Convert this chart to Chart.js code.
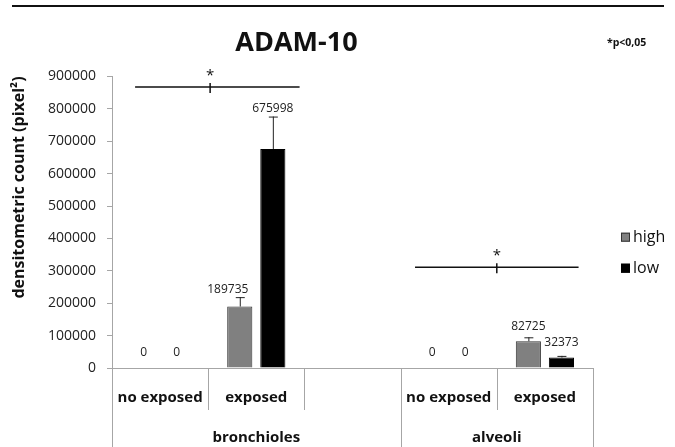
<!DOCTYPE html>
<html>
<head>
<meta charset="utf-8">
<script src="https://cdn.jsdelivr.net/npm/chart.js@4/dist/chart.umd.min.js"></script>
<style>
  html, body { margin: 0; padding: 0; background: #fff; }
  #wrap { width: 675px; height: 447px; }
</style>
</head>
<body>
<div id="wrap"><canvas id="barChart" width="675" height="447"></canvas></div>
<script>
// --- Data ---
const categories = ['no exposed', 'exposed', '', 'no exposed', 'exposed'];
const groupLabels = ['bronchioles', 'alveoli'];
const groupStart = [0, 3];
const groupEnd = [2, 4];
const highValues = [0, 189735, null, 0, 82725];
const lowValues = [0, 675998, null, 0, 32373];
const highErr = [0, 29000, null, 0, 12000];
const lowErr = [0, 100000, null, 0, 5000];
const yTicks = [0, 100000, 200000, 300000, 400000, 500000, 600000, 700000, 800000, 900000];
// significance brackets (category index positions, value level)
const sigFrom = [-0.26, 2.65];
const sigTo = [1.45, 4.35];
const sigMid = [0.52, 3.5];
const sigLevel = [867000, 311000];

const FONT = '"Open Sans", "Liberation Sans", sans-serif';
const errors = [highErr, lowErr];

// --- Extra drawing: error bars, value labels, brackets, grouped x axis, legend ---
const extras = {
  id: 'extras',
  afterDatasetsDraw(chart) {
    const ctx = chart.ctx;
    const y = chart.scales.y;
    const x = chart.scales.x;
    ctx.save();
    chart.data.datasets.forEach((ds, di) => {
      const meta = chart.getDatasetMeta(di);
      meta.data.forEach((bar, i) => {
        const v = ds.data[i];
        if (v === null) return;
        const err = errors[di][i];
        const top = y.getPixelForValue(v);
        const errTop = y.getPixelForValue(v + err);
        if (err > 0) {
          ctx.strokeStyle = '#222';
          ctx.lineWidth = 1;
          ctx.beginPath();
          ctx.moveTo(bar.x + 0.5, top);
          ctx.lineTo(bar.x + 0.5, errTop);
          ctx.moveTo(bar.x - 4, errTop + 0.5);
          ctx.lineTo(bar.x + 5, errTop + 0.5);
          ctx.stroke();
        }
        const ly = Math.min(top - 15, errTop - 8);
        // nudge a label left when the neighbouring bar rises past it
        let lx = bar.x;
        const next = chart.data.datasets[di + 1];
        if (next && next.data[i] !== null && y.getPixelForValue(next.data[i]) < ly) lx -= 12;
        ctx.fillStyle = '#222';
        ctx.font = '12px ' + FONT;
        ctx.textAlign = 'center';
        ctx.textBaseline = 'middle';
        ctx.fillText(String(v), lx, ly);
      });
    });
    // significance brackets
    ctx.strokeStyle = '#111';
    ctx.lineWidth = 1.5;
    for (let k = 0; k < sigLevel.length; k++) {
      const py = y.getPixelForValue(sigLevel[k]);
      const x1 = x.getPixelForValue(sigFrom[k]);
      const x2 = x.getPixelForValue(sigTo[k]);
      const xm = x.getPixelForValue(sigMid[k]);
      ctx.beginPath();
      ctx.moveTo(x1, py); ctx.lineTo(x2, py);
      ctx.moveTo(xm, py - 4); ctx.lineTo(xm, py + 6);
      ctx.stroke();
      ctx.fillStyle = '#111';
      ctx.font = '15px ' + FONT;
      ctx.textAlign = 'center';
      ctx.textBaseline = 'alphabetic';
      ctx.fillText('*', xm, py - 7);
    }
    ctx.restore();
  },
  afterDraw(chart) {
    const ctx = chart.ctx;
    const x = chart.scales.x;
    const area = chart.chartArea;
    const b = area.bottom;
    ctx.save();
    // rule across the top
    ctx.fillStyle = '#111';
    ctx.fillRect(12, 5, 652, 2);
    // p-value note
    ctx.font = 'bold 10.5px ' + FONT;
    ctx.textAlign = 'left';
    ctx.textBaseline = 'middle';
    ctx.fillText('*p<0,05', 607, 43);
    // x axis line and category boxes
    ctx.strokeStyle = '#a6a6a6';
    ctx.lineWidth = 1;
    ctx.beginPath();
    ctx.moveTo(area.left, b + 0.5);
    ctx.lineTo(area.right, b + 0.5);
    for (let i = 0; i <= categories.length; i++) {
      const px = Math.round(x.getPixelForValue(i - 0.5)) + 0.5;
      const isGroupEdge = i === 0 || groupEnd.indexOf(i - 1) >= 0;
      ctx.moveTo(px, b);
      ctx.lineTo(px, isGroupEdge ? chart.height : b + 42);
    }
    ctx.stroke();
    ctx.fillStyle = '#111';
    ctx.font = 'bold 15px ' + FONT;
    ctx.textAlign = 'center';
    categories.forEach((c, i) => {
      if (c) ctx.fillText(c, x.getPixelForValue(i), b + 30);
    });
    groupLabels.forEach((g, k) => {
      const cx = (x.getPixelForValue(groupStart[k]) + x.getPixelForValue(groupEnd[k])) / 2;
      ctx.fillText(g, cx, b + 70);
    });
    // legend
    const lx = area.right + 28;
    const ly0 = (area.top + area.bottom) / 2 + 15;
    chart.data.datasets.forEach((ds, di) => {
      const ly = ly0 + di * 31;
      ctx.fillStyle = ds.backgroundColor;
      ctx.fillRect(lx, ly - 4.5, 9, 9);
      ctx.strokeStyle = ds.borderColor;
      ctx.lineWidth = 1;
      ctx.strokeRect(lx + 0.5, ly - 4, 8, 8);
      ctx.fillStyle = '#111';
      ctx.font = '16px ' + FONT;
      ctx.textAlign = 'left';
      ctx.fillText(ds.label, lx + 12, ly);
    });
    ctx.restore();
  }
};

// --- Chart ---
const barCtx = document.getElementById('barChart').getContext('2d');
const barChart = new Chart(barCtx, {
  type: 'bar',
  data: {
    labels: categories,
    datasets: [
      { label: 'high', data: highValues, backgroundColor: '#808080', borderColor: '#333', borderWidth: 1 },
      { label: 'low', data: lowValues, backgroundColor: '#000000', borderColor: '#000', borderWidth: 1 }
    ]
  },
  options: {
    responsive: false,
    animation: false,
    layout: { padding: { top: 0, right: 82, bottom: 79, left: 0 } },
    datasets: { bar: { categoryPercentage: 0.6875, barPercentage: 0.76 } },
    plugins: {
      legend: { display: false },
      tooltip: { enabled: false },
      title: {
        display: true,
        text: 'ADAM-10',
        color: '#111',
        font: { family: FONT, size: 27, weight: 'bold' },
        padding: { top: 27, bottom: 17 }
      }
    },
    scales: {
      x: { display: false },
      y: {
        min: 0,
        max: 900000,
        afterFit: (scale) => { scale.width = 112; },
        afterBuildTicks: (scale) => { scale.ticks = yTicks.map(v => ({ value: v })); },
        border: { color: '#a6a6a6' },
        grid: { drawOnChartArea: false, color: '#a6a6a6', tickLength: 5 },
        ticks: {
          padding: 11,
          color: '#222',
          font: { family: FONT, size: 14 },
          callback: v => String(v)
        },
        title: {
          display: true,
          text: 'densitometric count (pixel²)',
          align: 'end',
          color: '#111',
          font: { family: FONT, size: 16, weight: 'bold' },
          padding: { top: 10 }
        }
      }
    }
  },
  plugins: [extras]
});
</script>
</body>
</html>
